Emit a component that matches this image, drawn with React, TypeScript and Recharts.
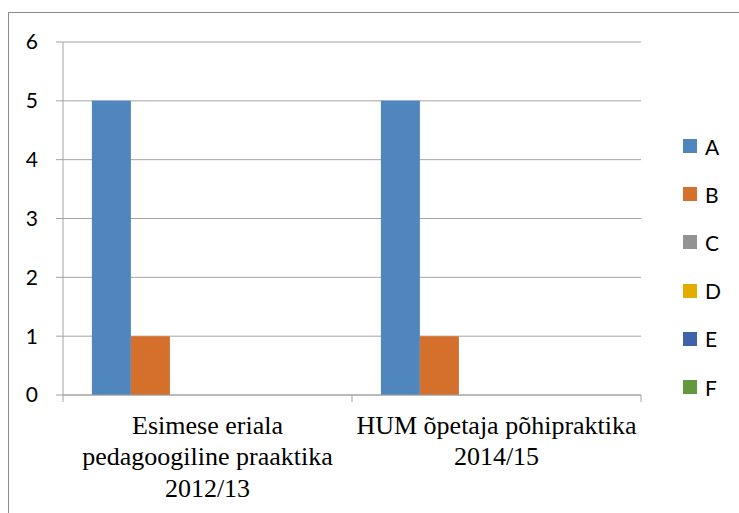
import React from "react";
import { BarChart, Bar, XAxis, YAxis, CartesianGrid, Legend } from "recharts";

const categories = [
  "Esimese eriala\npedagoogiline praaktika\n2012/13",
  "HUM õpetaja põhipraktika\n2014/15",
];
const seriesNames = ["A", "B", "C", "D", "E", "F"];
const seriesColors = ["#4F86BE", "#D46F2C", "#939393", "#E3AC00", "#3D64AA", "#64983F"];
const valuesA = [5, 5];
const valuesB = [1, 1];
const valuesC = [0, 0];
const valuesD = [0, 0];
const valuesE = [0, 0];
const valuesF = [0, 0];
const yTicks = [0, 1, 2, 3, 4, 5, 6];

const seriesValues = [valuesA, valuesB, valuesC, valuesD, valuesE, valuesF];
const data = categories.map((c, i) => {
  const row: Record<string, any> = { name: c };
  seriesNames.forEach((s, j) => (row[s] = seriesValues[j][i]));
  return row;
});

const axisColor = "#a3a3a3";

const CatTick = (props: any) => {
  const { x, y, payload, width, index } = props;
  const band = Number(width) / categories.length;
  const lines = String(payload.value).split("\n");
  const left = x - band / 2;
  const right = x + band / 2;
  return (
    <g>
      <line x1={left} y1={y} x2={left} y2={y + 7} stroke={axisColor} />
      {index === categories.length - 1 && (
        <line x1={right} y1={y} x2={right} y2={y + 7} stroke={axisColor} />
      )}
      <text
        x={x}
        y={y}
        textAnchor="middle"
        fill="#000"
        fontFamily="'Liberation Serif', 'Times New Roman', serif"
        fontSize={26}
      >
        {lines.map((l, i) => (
          <tspan key={i} x={x} dy={i === 0 ? 39 : 31.3}>
            {l}
          </tspan>
        ))}
      </text>
    </g>
  );
};

const LegendContent = () => (
  <div style={{ fontFamily: "Lato, sans-serif", fontSize: 21, color: "#000" }}>
    {seriesNames.map((s, i) => (
      <div key={s} style={{ height: 48.2, display: "flex", alignItems: "center" }}>
        <div style={{ width: 14, height: 14, background: seriesColors[i], marginRight: 8 }} />
        <span>{s}</span>
      </div>
    ))}
  </div>
);

export default function App() {
  return (
    <div
      style={{
        position: "absolute",
        left: 0,
        top: 0,
        width: 739,
        height: 513,
        overflow: "hidden",
        background: "#fff",
      }}
    >
      <div
        style={{
          position: "absolute",
          left: 8,
          top: 12,
          width: 800,
          height: 600,
          border: "1px solid #8c8c8c",
        }}
      />
      <div style={{ position: "absolute", left: 0, top: 0 }}>
        <BarChart
          width={739}
          height={513}
          data={data}
          margin={{ top: 42, right: 98, bottom: 0, left: 0 }}
          barCategoryGap="10%"
          barGap={0}
        >
          <CartesianGrid vertical={false} stroke={axisColor} strokeWidth={1} />
          <XAxis
            dataKey="name"
            tick={<CatTick />}
            tickLine={false}
            tickSize={0}
            tickMargin={0}
            axisLine={{ stroke: axisColor }}
            interval={0}
            height={118}
          />
          <YAxis
            domain={[0, 6]}
            ticks={yTicks}
            width={63}
            axisLine={{ stroke: axisColor }}
            tickLine={{ stroke: axisColor }}
            tickSize={7}
            tickMargin={18}
            tick={{ fill: "#000", fontFamily: "Lato, sans-serif", fontSize: 21 }}
          />
          <Legend
            layout="vertical"
            align="center"
            verticalAlign="middle"
            wrapperStyle={{ left: 683, top: 122, width: 50 }}
            content={<LegendContent />}
          />
          {seriesNames.map((s, i) => (
            <Bar key={s} dataKey={s} fill={seriesColors[i]} isAnimationActive={false} />
          ))}
        </BarChart>
      </div>
    </div>
  );
}
